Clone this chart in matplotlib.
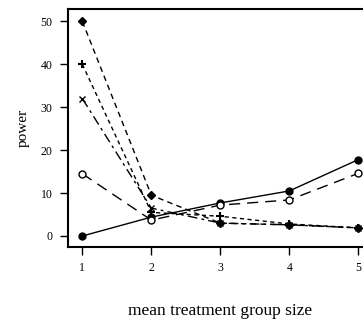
import matplotlib
matplotlib.use("Agg")
import matplotlib.pyplot as plt

# group sizes on the x axis
sizes = [1, 2, 3, 4, 5]

# power values for each curve
power_solid = [0, 4.4, 7.7, 10.5, 17.8]
power_open = [14.5, 3.7, 7.2, 8.4, 14.6]
power_diamond = [50, 9.5, 3.0, 2.6, 1.9]
power_plus = [40, 5.5, 4.6, 2.8, 1.9]
power_cross = [32, 6.5, 3.0, 2.6, 1.9]

plt.rcParams['font.family'] = ['Liberation Serif', 'DejaVu Serif']

fig = plt.figure(figsize=(3.63, 3.22), dpi=100)
ax = fig.add_axes([0.187, 0.233, 0.838, 0.739])

ax.plot(sizes, power_solid, color='black', lw=1.0, marker='o', ms=5,
        linestyle='-')
ax.plot(sizes, power_open, color='black', lw=1.0, marker='o', ms=5,
        mfc='white', linestyle=(0, (8, 5)))
ax.plot(sizes, power_diamond, color='black', lw=1.0, marker='D', ms=4,
        linestyle=(0, (4, 3)))
ax.plot(sizes, power_plus, color='black', lw=1.0, marker='+', ms=6,
        mew=1.5, linestyle=(0, (3, 2.5)))
ax.plot(sizes, power_cross, color='black', lw=1.0, marker='x', ms=4,
        linestyle=(0, (7, 3, 2, 3)))

ax.set_xlim(0.79, 5.2)
ax.set_ylim(-2.56, 52.9)
ax.set_xticks(sizes)
ax.set_yticks([0, 10, 20, 30, 40, 50])
ax.tick_params(direction='out', length=6, width=1, labelsize=8.5, pad=5)
for s in ax.spines.values():
    s.set_linewidth(1.5)

ax.set_xlabel('mean treatment group size', fontsize=12.5, labelpad=21)
ax.set_ylabel('power', fontsize=11, labelpad=8)

fig.savefig('out.png', dpi=100)
